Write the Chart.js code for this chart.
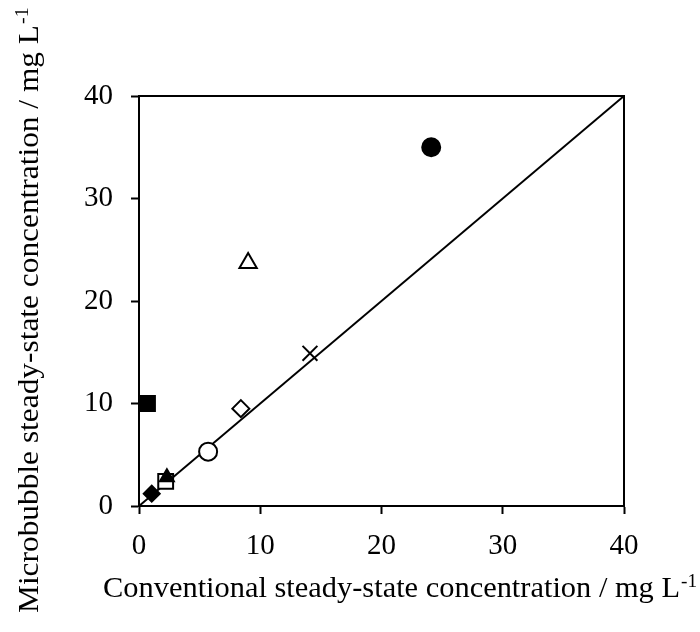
<!DOCTYPE html>
<html>
<head>
<meta charset="utf-8">
<script src="https://cdn.jsdelivr.net/npm/chart.js@4/dist/chart.umd.min.js"></script>
<style>
  html, body { margin: 0; padding: 0; background: #fff; }
  #wrap { width: 700px; height: 632px; }
</style>
</head>
<body>
<div id="wrap"><canvas id="c"></canvas></div>
<script>
// one point per treatment
const conventional = [24.1, 9.0, 14.1, 8.4, 5.7, 0.7, 2.2, 2.3, 1.05];
const microbubble  = [35.0, 23.7, 14.9, 9.5, 5.3, 10.0, 2.4, 2.8, 1.2];
const markers = ['circle', 'triangle', 'crossRot', 'rectRot', 'circle', 'rect', 'rect', 'triangle', 'rectRot'];
const filled  = [true, false, false, false, false, true, false, true, true];
const sizes   = [9, 10, 10.5, 8.5, 9, 10.5, 10.5, 8, 8];
const lineX = [0, 40];   // 1:1 line
const axisTicks = [0, 10, 20, 30, 40];

const xTitle = 'Conventional steady-state concentration / mg L';
const yTitle = 'Microbubble steady-state concentration / mg L';
const unitSup = '-1';

const serif = '"Liberation Serif", "Times New Roman", serif';

const pointSets = conventional.map((x, i) => ({
  label: 'p' + i,
  data: [{ x: x, y: microbubble[i] }],
  order: conventional.length - i,
  pointStyle: markers[i],
  pointRadius: sizes[i],
  pointHoverRadius: sizes[i],
  pointBackgroundColor: filled[i] ? '#000' : '#fff',
  pointBorderColor: '#000',
  pointBorderWidth: 2,
  showLine: false
}));

// axis titles with a real superscript, glyphs widened a bit like the original
function titleText(ctx, main, sup, x, y, rot, len) {
  ctx.save();
  ctx.translate(x, y);
  ctx.rotate(rot);
  ctx.fillStyle = '#000';
  ctx.textAlign = 'left';
  ctx.textBaseline = 'alphabetic';
  ctx.font = '30px ' + serif;
  const w = ctx.measureText(main).width;
  ctx.scale(len / w, 1);
  ctx.fillText(main, 0, 0);
  ctx.font = '19px ' + serif;
  ctx.fillText(sup, w + 1, -10);
  ctx.restore();
}

const frame = {
  id: 'frame',
  afterDraw(chart) {
    const a = chart.chartArea, ctx = chart.ctx;
    ctx.save();
    ctx.strokeStyle = '#000';
    ctx.lineWidth = 2;
    ctx.strokeRect(a.left, a.top, a.right - a.left, a.bottom - a.top);
    ctx.restore();
    titleText(ctx, xTitle, unitSup, 103, 597, 0, 577);
    titleText(ctx, yTitle, unitSup, 38, 613, -Math.PI / 2, 588);
  }
};

new Chart(document.getElementById('c'), {
  type: 'scatter',
  data: {
    datasets: [{
      label: '1:1',
      data: lineX.map(v => ({ x: v, y: v })),
      order: 100,
      showLine: true,
      borderColor: '#000',
      borderWidth: 2,
      pointRadius: 0
    }].concat(pointSets)
  },
  options: {
    responsive: true,
    maintainAspectRatio: false,
    animation: false,
    layout: { padding: { top: 96, right: 76, left: 0, bottom: 0 } },
    plugins: { legend: { display: false }, tooltip: { enabled: false } },
    scales: {
      x: {
        type: 'linear', min: 0, max: 40,
        afterBuildTicks: s => { s.ticks = axisTicks.map(v => ({ value: v })); },
        afterFit: s => { s.height = 126; },
        grid: { drawOnChartArea: false, drawTicks: true, tickLength: 8, tickColor: '#000', tickWidth: 2 },
        border: { display: true, color: '#000', width: 2 },
        ticks: { color: '#000', font: { family: serif, size: 29 }, padding: 15, maxRotation: 0 }
      },
      y: {
        type: 'linear', min: 0, max: 40,
        afterBuildTicks: s => { s.ticks = axisTicks.map(v => ({ value: v })); },
        afterFit: s => { s.width = 139; },
        grid: { drawOnChartArea: false, drawTicks: true, tickLength: 8, tickColor: '#000', tickWidth: 2 },
        border: { display: true, color: '#000', width: 2 },
        ticks: { color: '#000', font: { family: serif, size: 29 }, padding: 18 }
      }
    }
  },
  plugins: [frame]
});
</script>
</body>
</html>
